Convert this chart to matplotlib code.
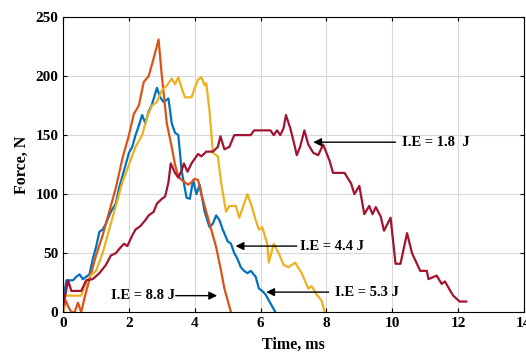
import numpy as np
import matplotlib
matplotlib.use("Agg")
import matplotlib.pyplot as plt

# Force-time curves (time in ms, force in N)
t_88 = [0, 0.08, 0.15, 0.25, 0.35, 0.45, 0.55, 0.65, 0.8, 1.0, 1.2, 1.4, 1.6, 1.8, 2.0, 2.15, 2.3,
        2.45, 2.6, 2.75, 2.9, 3.0, 3.15, 3.3, 3.4, 3.5, 3.6, 3.7, 3.8, 3.9, 4.0, 4.1, 4.2, 4.35,
        4.5, 4.65, 4.8, 4.9, 5.0, 5.1]
f_88 = [0, 10, 5, 0, 0, 8, 0, 12, 28, 48, 65, 85, 105, 130, 150, 168, 175,
        195, 200, 215, 231, 200, 160, 140, 125, 115, 112, 110, 108, 110, 113, 112, 100, 85,
        70, 55, 35, 20, 10, 0]

t_53 = [0, 0.1, 0.3, 0.4, 0.5, 0.6, 0.7, 0.8, 0.9, 1.0, 1.1, 1.2, 1.3, 1.45, 1.6, 1.7, 1.8, 1.9,
        2.0, 2.1, 2.2, 2.3, 2.4, 2.5, 2.6, 2.7, 2.85, 2.95, 3.05, 3.2, 3.3, 3.4, 3.5, 3.6, 3.75,
        3.85, 3.95, 4.05, 4.15, 4.3, 4.45, 4.55, 4.65, 4.75, 4.85, 5.0, 5.1, 5.2, 5.3, 5.4, 5.5,
        5.6, 5.7, 5.85, 5.95, 6.05, 6.15, 6.25, 6.35, 6.45]
f_53 = [10, 27, 27, 30, 32, 28, 30, 32, 45, 55, 68, 70, 75, 85, 92, 105, 115, 125,
        135, 140, 150, 158, 167, 160, 170, 176, 190, 182, 178, 181, 160, 152, 150, 120, 97,
        96, 112, 100, 108, 85, 72, 75, 82, 78, 70, 60, 58, 50, 45, 38, 35,
        33, 35, 30, 20, 18, 15, 10, 5, 0]

t_44 = [0, 0.05, 0.55, 0.65, 0.8, 1.0, 1.2, 1.4, 1.6, 1.8, 2.0, 2.2, 2.4, 2.55, 2.7, 2.85, 3.0,
        3.15, 3.3, 3.4, 3.5, 3.6, 3.7, 3.9, 4.0, 4.1, 4.2, 4.3, 4.35, 4.45, 4.55, 4.7, 4.8, 4.95,
        5.05, 5.25, 5.35, 5.5, 5.6, 5.75, 5.85, 5.95, 6.05, 6.2, 6.25, 6.4, 6.55, 6.7, 6.85,
        7.05, 7.25, 7.45, 7.55, 7.7, 7.85, 7.95]
f_44 = [0, 14, 14, 22, 30, 35, 50, 70, 90, 110, 125, 140, 150, 165, 175, 178, 188,
        192, 198, 193, 199, 190, 182, 182, 190, 197, 199, 192, 194, 170, 135, 132, 110, 85,
        90, 90, 80, 92, 100, 88, 78, 70, 72, 58, 42, 58, 50, 40, 38,
        42, 33, 20, 22, 15, 10, 0]

t_18 = [0, 0.15, 0.25, 0.55, 0.7, 0.9, 1.1, 1.3, 1.45, 1.6, 1.75, 1.85, 1.95, 2.1, 2.2, 2.35,
        2.5, 2.6, 2.75, 2.85, 3.0, 3.1, 3.2, 3.27, 3.4, 3.5, 3.6, 3.67, 3.78, 3.9, 4.0, 4.1,
        4.2, 4.35, 4.55, 4.7, 4.78, 4.9, 5.05, 5.2, 5.5, 5.7, 5.8, 6.3, 6.4, 6.5, 6.6, 6.7,
        6.77, 6.9, 7.0, 7.1, 7.2, 7.33, 7.45, 7.6, 7.75, 7.9, 8.1, 8.2, 8.55, 8.75, 8.85, 9.0,
        9.15, 9.3, 9.4, 9.5, 9.65, 9.75, 9.95, 10.1, 10.25, 10.45, 10.6, 10.85, 11.05, 11.1,
        11.35, 11.5, 11.6, 11.85, 12.05, 12.25]
f_18 = [5, 27, 18, 18, 27, 28, 33, 40, 48, 50, 55, 58, 56, 65, 70, 73,
        78, 82, 85, 92, 96, 98, 110, 126, 118, 114, 120, 126, 119, 126, 130, 134,
        132, 136, 136, 140, 149, 138, 140, 150, 150, 150, 154, 154, 150, 154, 150, 156,
        167, 156, 145, 133, 140, 154, 142, 135, 133, 142, 128, 118, 118, 109, 100, 107,
        83, 90, 83, 89, 81, 69, 80, 41, 41, 67, 50, 35, 35, 28,
        31, 24, 26, 14, 9, 9]

plt.rcParams['font.family'] = ['Liberation Serif', 'DejaVu Serif']
plt.rcParams['font.weight'] = 'bold'

fig = plt.figure(figsize=(5.26, 3.63), dpi=100)
ax = fig.add_axes([0.12, 0.14, 0.876, 0.813])

ax.plot(t_53, f_53, color='#0072BD', lw=1.6)
ax.plot(t_88, f_88, color='#D95319', lw=1.6)
ax.plot(t_44, f_44, color='#EDB120', lw=1.6)
ax.plot(t_18, f_18, color='#A2142F', lw=1.6)

ax.set_xlim(0, 14)
ax.set_ylim(0, 250)
ax.set_xticks(np.arange(0, 15, 2))
ax.set_yticks(np.arange(0, 251, 50))
ax.grid(True, color='#d8d8d8', lw=0.8)
ax.set_axisbelow(True)
ax.tick_params(direction='in', top=True, right=True, labelsize=11, length=3)
for lab in ax.get_xticklabels() + ax.get_yticklabels():
    lab.set_fontweight('bold')
for s in ax.spines.values():
    s.set_linewidth(0.8)

ax.set_xlabel('Time, ms', fontsize=11.5, fontweight='bold', labelpad=5)
ax.set_ylabel('Force, N', fontsize=11.5, fontweight='bold', labelpad=4)

arrow = dict(arrowstyle='-|>', color='black', lw=1.0, mutation_scale=12, shrinkA=0, shrinkB=0)
ax.annotate('', xy=(7.6, 144), xytext=(10.1, 144), arrowprops=arrow)
ax.text(10.3, 144, 'I.E = 1.8  J', fontsize=10.5, fontweight='bold', va='center', ha='left')
ax.annotate('', xy=(5.24, 56), xytext=(7.1, 56), arrowprops=arrow)
ax.text(7.2, 56, 'I.E = 4.4 J', fontsize=10.5, fontweight='bold', va='center', ha='left')
ax.annotate('', xy=(6.17, 17), xytext=(8.07, 17), arrowprops=arrow)
ax.text(8.25, 17, 'I.E = 5.3 J', fontsize=10.5, fontweight='bold', va='center', ha='left')
ax.annotate('', xy=(4.68, 14), xytext=(3.42, 14), arrowprops=arrow)
ax.text(3.4, 14, 'I.E = 8.8 J', fontsize=10.5, fontweight='bold', va='center', ha='right')

fig.savefig('out.png', dpi=100)
